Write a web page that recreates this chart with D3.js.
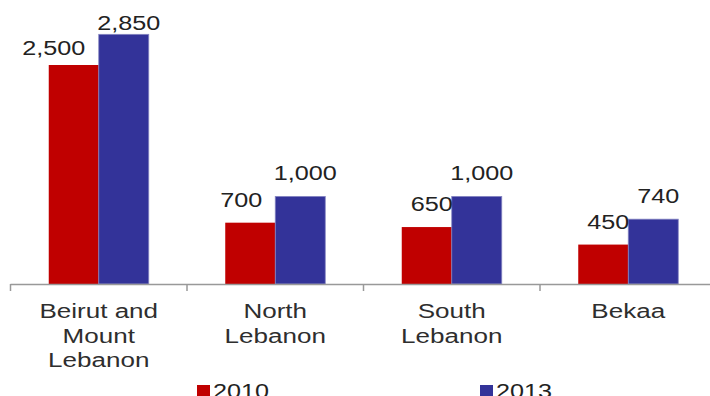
<!DOCTYPE html>
<html>
<head>
<meta charset="utf-8">
<script src="https://cdn.jsdelivr.net/npm/d3@7/dist/d3.min.js"></script>
<style>
  html, body { margin: 0; padding: 0; background: #fff; overflow: hidden; }
  svg { display: block; font-family: "Liberation Sans", Arial, sans-serif; }
</style>
</head>
<body>
<svg id="chart" width="710" height="396"></svg>
<script>
(function (d3) {
    'use strict';

    // data
    var regions = [['Beirut and', 'Mount', 'Lebanon'], ['North', 'Lebanon'], ['South', 'Lebanon'], ['Bekaa']];
    var years = ['2010', '2013'];
    var values2010 = [2500, 700, 650, 450];
    var values2013 = [2850, 1000, 1000, 740];
    var colors = ['#c00000', '#333399'];

    // hand placed value labels in the original (x / y nudges)
    var labelDx = [[-25, -14, 0, 0], [0, 0, 0, 0]];
    var labelDy = [[6, 0, 0, 0], [12, 0, 0, 0]];

    var base = 284,
    sx = 1.2; // the source picture is stretched sideways

    var svg = d3.select('#chart');
    var series = [values2010, values2013];

    var x0 = d3.scaleBand()
        .domain(d3.range(regions.length))
        .range([10.5, 716.5])
        .paddingInner(0.4334)
        .paddingOuter(0.2167);

    var x1 = d3.scaleBand()
        .domain(d3.range(years.length))
        .range([0, x0.bandwidth()]);

    var y = d3.scaleLinear()
        .domain([0, 3000])
        .range([base, 21.2]);

    function stretchedText(g, x, yy, txt, k) {
        return g.append('text')
            .attr('transform', 'translate(' + x + ',' + yy + ') scale(' + (k || sx) + ',1)')
            .attr('text-anchor', 'middle')
            .text(txt);
    }

    // bars
    series.forEach(function (vals, s) {
        svg.append('g').selectAll('rect')
            .data(vals)
            .enter()
            .append('rect')
            .attr('x', function (d, i) { return x0(i) + x1(s); })
            .attr('y', function (d) { return y(d); })
            .attr('width', x1.bandwidth())
            .attr('height', function (d) { return base - y(d); })
            .style('fill', colors[s])
            .style('stroke', s === 1 ? '#8585c2' : 'none')
            .style('stroke-width', 0.8);
    });

    // value labels
    var lab = svg.append('g')
        .style('font-size', '21px')
        .style('fill', '#222');
    series.forEach(function (vals, s) {
        vals.forEach(function (d, i) {
            var cx = x0(i) + x1(s) + x1.bandwidth() / 2 + 5 + labelDx[s][i];
            stretchedText(lab, cx, y(d) - 16 + labelDy[s][i], d3.format(',')(d));
        });
    });

    // axis
    var ax = svg.append('g')
        .style('stroke', '#999')
        .style('stroke-width', 1.5);
    ax.append('line')
        .attr('x1', x0.range()[0]).attr('x2', x0.range()[1])
        .attr('y1', base + 0.5).attr('y2', base + 0.5);
    ax.selectAll('.tick')
        .data(d3.range(regions.length + 1))
        .enter()
        .append('line')
        .attr('class', 'tick')
        .attr('x1', function (i) { return x0.range()[0] + i * x0.step(); })
        .attr('x2', function (i) { return x0.range()[0] + i * x0.step(); })
        .attr('y1', base).attr('y2', base + 7);

    // category labels
    var cat = svg.append('g')
        .style('font-size', '21px')
        .style('fill', '#2e2e2e');
    regions.forEach(function (lines, i) {
        var cx = x0(i) + x0.bandwidth() / 2;
        lines.forEach(function (t, k) {
            stretchedText(cat, cx, 318 + k * 24.5, t, 1.24);
        });
    });

    // legend (cut off by the bottom edge, as in the source)
    var leg = svg.append('g').style('font-size', '21px').style('fill', '#222');
    var legX = [197, 480];
    years.forEach(function (yr, s) {
        leg.append('rect')
            .attr('x', legX[s]).attr('y', 385)
            .attr('width', 13).attr('height', 13)
            .style('fill', colors[s]);
        leg.append('text')
            .attr('transform', 'translate(' + (legX[s] + 16) + ',398) scale(' + sx + ',1)')
            .text(yr);
    });
})(d3);
</script>
</body>
</html>
